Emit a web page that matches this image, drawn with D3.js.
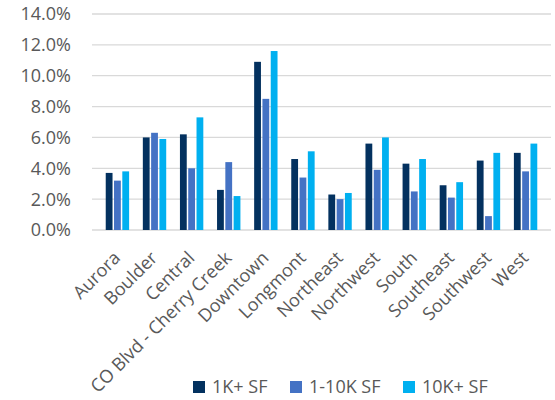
<!DOCTYPE html>
<html>
<head>
<meta charset="utf-8">
<script src="https://cdn.jsdelivr.net/npm/d3@7"></script>
<style>
  body { margin: 0; background: #fff; }
  text { font-family: "Open Sans", sans-serif; fill: #595959; font-size: 18px; }
</style>
</head>
<body>
<script>
// data
var regions = ["Aurora", "Boulder", "Central", "CO Blvd - Cherry Creek", "Downtown", "Longmont",
               "Northeast", "Northwest", "South", "Southeast", "Southwest", "West"];
var series = ["1K+ SF", "1-10K SF", "10K+ SF"];
var sf1k = [3.7, 6.0, 6.2, 2.6, 10.9, 4.6, 2.3, 5.6, 4.3, 2.9, 4.5, 5.0];
var sf1to10k = [3.2, 6.3, 4.0, 4.4, 8.5, 3.4, 2.0, 3.9, 2.5, 2.1, 0.9, 3.8];
var sf10k = [3.8, 5.9, 7.3, 2.2, 11.6, 5.1, 2.4, 6.0, 4.6, 3.1, 5.0, 5.6];
var yTicks = [0, 2, 4, 6, 8, 10, 12, 14];
var colours = ["#03315f", "#4472c4", "#00b0f0"];

var width = 555, height = 400;
var margin = { top: 14, right: 4, bottom: 170, left: 92 };

var svg = d3.select("body").append("svg")
    .attr("width", width)
    .attr("height", height);

var rows = regions.map((r, i) => ({ region: r, values: [sf1k[i], sf1to10k[i], sf10k[i]] }));

var x0 = d3.scaleBand()
    .domain(regions)
    .range([margin.left, width - margin.right])
    .padding(0.37);

var x1 = d3.scaleBand()
    .domain(series)
    .range([0, x0.bandwidth()])
    .paddingInner(0.18);

var y = d3.scaleLinear()
    .domain([0, 14])
    .range([height - margin.bottom, margin.top]);

var colour = d3.scaleOrdinal().domain(series).range(colours);

// gridlines
svg.append("g")
  .selectAll("line")
  .data(yTicks)
  .enter().append("line")
    .attr("x1", margin.left)
    .attr("x2", width - margin.right)
    .attr("y1", d => y(d))
    .attr("y2", d => y(d))
    .style("stroke", "#d9d9d9")
    .style("stroke-width", 1.3);

// y labels
svg.append("g")
  .selectAll("text")
  .data(yTicks)
  .enter().append("text")
    .attr("x", 71)
    .attr("y", d => y(d))
    .attr("dy", "0.36em")
    .style("text-anchor", "end")
    .text(d => d3.format(".1f")(d) + "%");

// bars
var groups = svg.append("g")
  .selectAll("g")
  .data(rows)
  .enter().append("g")
    .attr("transform", d => `translate(${x0(d.region)},0)`);

groups.selectAll("rect")
  .data(d => d.values.map((v, i) => ({ key: series[i], value: v })))
  .enter().append("rect")
    .attr("x", d => x1(d.key))
    .attr("width", x1.bandwidth())
    .attr("y", d => y(d.value))
    .attr("height", d => y(0) - y(d.value))
    .style("fill", d => colour(d.key));

// x labels, rotated
svg.append("g")
  .selectAll("text")
  .data(regions)
  .enter().append("text")
    .attr("transform", d => `translate(${x0(d) + x0.bandwidth() / 2 + 4},${y(0) + 29}) rotate(-45)`)
    .style("text-anchor", "end")
    .text(d => d);

// legend
var legendX = [193, 290, 403];
var legend = svg.append("g")
  .selectAll("g")
  .data(series)
  .enter().append("g")
    .attr("transform", (d, i) => `translate(${legendX[i]},381)`);

legend.append("rect")
    .attr("width", 12)
    .attr("height", 12)
    .style("fill", d => colour(d));

legend.append("text")
    .attr("x", 19)
    .attr("y", 6)
    .attr("dy", "0.36em")
    .text(d => d);
</script>
</body>
</html>
